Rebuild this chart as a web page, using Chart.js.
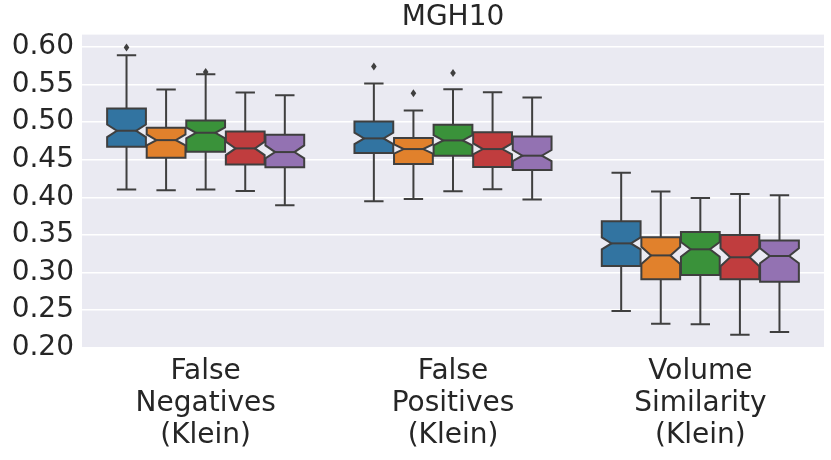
<!DOCTYPE html>
<html>
<head>
<meta charset="utf-8">
<script src="https://cdn.jsdelivr.net/npm/chart.js@4.4.1/dist/chart.umd.min.js"></script>
<style>
  body { margin: 0; background: #fff; }
  #box { width: 831px; height: 460px; }
</style>
</head>
<body>
<div id="box"><canvas id="chart" width="831" height="460"></canvas></div>
<script>
// categorias del eje x (multilinea)
const categories = [
  ['False', 'Negatives', '(Klein)'],
  ['False', 'Positives', '(Klein)'],
  ['Volume', 'Similarity', '(Klein)']
]
const seriesNames = ['Serie 1', 'Serie 2', 'Serie 3', 'Serie 4', 'Serie 5']
const seriesColors = ['#3274a1', '#e1812c', '#3a923a', '#c03d3e', '#9372b2']
const yTicks = [0.20, 0.25, 0.30, 0.35, 0.40, 0.45, 0.50, 0.55, 0.60]

// una fila por serie, una columna por categoria
const whiskerLow = [
  [0.4103, 0.3947, 0.2486],
  [0.4094, 0.3978, 0.2318],
  [0.4103, 0.4081, 0.2310],
  [0.4085, 0.4107, 0.2172],
  [0.3895, 0.3971, 0.2208]
]
const q1 = [
  [0.4674, 0.4589, 0.3086],
  [0.4528, 0.4443, 0.2909],
  [0.4607, 0.4554, 0.2967],
  [0.4435, 0.4403, 0.2909],
  [0.4399, 0.4363, 0.2878]
]
const notchLow = [
  [0.4801, 0.4708, 0.3308],
  [0.4691, 0.4581, 0.3112],
  [0.4784, 0.4691, 0.3209],
  [0.4562, 0.4572, 0.3082],
  [0.4519, 0.4483, 0.3122]
]
const medians = [
  [0.4886, 0.4784, 0.3387],
  [0.4761, 0.4642, 0.3227],
  [0.4859, 0.4757, 0.3308],
  [0.4651, 0.4642, 0.3202],
  [0.4602, 0.4554, 0.3219]
]
const notchHigh = [
  [0.4969, 0.4860, 0.3467],
  [0.4837, 0.4704, 0.3342],
  [0.4930, 0.4828, 0.3404],
  [0.4740, 0.4717, 0.3321],
  [0.4691, 0.4629, 0.3321]
]
const q3 = [
  [0.5182, 0.5009, 0.3683],
  [0.4926, 0.4788, 0.3467],
  [0.5023, 0.4966, 0.3537],
  [0.4877, 0.4867, 0.3497],
  [0.4833, 0.4810, 0.3427]
]
const whiskerHigh = [
  [0.5889, 0.5514, 0.4328],
  [0.5434, 0.5155, 0.4076],
  [0.5638, 0.5438, 0.3992],
  [0.5395, 0.5398, 0.4045],
  [0.5359, 0.5328, 0.4027]
]
const outliers = [
  [[0.5995], [0.5739], []],
  [[], [0.5385], []],
  [[0.5668], [0.5655], []],
  [[], [], []],
  [[], [], []]
]

const edgeColor = '#3f3f3f'
const textColor = '#262626'
const fontFamily = "'DejaVu Sans', sans-serif"

// fondo gris del area de dibujo
const plotBackground = {
  id: 'plotBackground',
  beforeDraw(chart) {
    const a = chart.chartArea
    chart.ctx.save()
    chart.ctx.fillStyle = '#eaeaf2'
    chart.ctx.fillRect(a.left, a.top, a.right - a.left, a.bottom - a.top)
    chart.ctx.restore()
  }
}

// cajas con muesca, bigotes y atipicos
const notchedBoxes = {
  id: 'notchedBoxes',
  afterDatasetsDraw(chart) {
    const ctx = chart.ctx
    const ys = chart.scales.y
    const py = v => ys.getPixelForValue(v)
    ctx.save()
    ctx.lineWidth = 2
    ctx.strokeStyle = edgeColor
    ctx.lineJoin = 'miter'
    chart.data.datasets.forEach((ds, h) => {
      const meta = chart.getDatasetMeta(h)
      meta.data.forEach((bar, c) => {
        const cx = bar.x, w = bar.width
        const l = cx - w / 2, r = cx + w / 2
        const nl = cx - w / 4, nr = cx + w / 4
        // bigotes
        ctx.beginPath()
        ctx.moveTo(cx, py(q3[h][c])); ctx.lineTo(cx, py(whiskerHigh[h][c]))
        ctx.moveTo(cx, py(q1[h][c])); ctx.lineTo(cx, py(whiskerLow[h][c]))
        ctx.moveTo(nl, py(whiskerHigh[h][c])); ctx.lineTo(nr, py(whiskerHigh[h][c]))
        ctx.moveTo(nl, py(whiskerLow[h][c])); ctx.lineTo(nr, py(whiskerLow[h][c]))
        ctx.stroke()
        // caja
        ctx.beginPath()
        ctx.moveTo(l, py(q1[h][c]))
        ctx.lineTo(r, py(q1[h][c]))
        ctx.lineTo(r, py(notchLow[h][c]))
        ctx.lineTo(nr, py(medians[h][c]))
        ctx.lineTo(r, py(notchHigh[h][c]))
        ctx.lineTo(r, py(q3[h][c]))
        ctx.lineTo(l, py(q3[h][c]))
        ctx.lineTo(l, py(notchHigh[h][c]))
        ctx.lineTo(nl, py(medians[h][c]))
        ctx.lineTo(l, py(notchLow[h][c]))
        ctx.closePath()
        ctx.fillStyle = seriesColors[h]
        ctx.fill()
        ctx.stroke()
        // mediana
        ctx.beginPath()
        ctx.moveTo(nl, py(medians[h][c])); ctx.lineTo(nr, py(medians[h][c]))
        ctx.stroke()
        // atipicos en forma de rombo
        ctx.fillStyle = edgeColor
        outliers[h][c].forEach(v => {
          const oy = py(v)
          ctx.beginPath()
          ctx.moveTo(cx, oy - 4); ctx.lineTo(cx + 2.8, oy)
          ctx.lineTo(cx, oy + 4); ctx.lineTo(cx - 2.8, oy)
          ctx.closePath()
          ctx.fill()
        })
      })
    })
    ctx.restore()
  }
}

const datasets = seriesNames.map((name, h) => ({
  label: name,
  data: categories.map((_, c) => [q1[h][c], q3[h][c]]),
  backgroundColor: 'rgba(0,0,0,0)',
  borderWidth: 0,
  categoryPercentage: 0.8,
  barPercentage: 0.98
}))

new Chart(document.querySelector('#chart'), {
  type: 'bar',
  data: { labels: categories, datasets: datasets },
  options: {
    responsive: false,
    animation: false,
    devicePixelRatio: 1,
    layout: { padding: { left: 0, right: 7, top: 0, bottom: 0 } },
    plugins: {
      legend: { display: false },
      tooltip: { enabled: false },
      title: {
        display: true,
        fullSize: false,
        text: 'MGH10',
        color: textColor,
        font: { family: fontFamily, size: 28, weight: 'normal' },
        padding: { top: 1, bottom: 0 }
      }
    },
    scales: {
      x: {
        grid: { display: false, drawTicks: false },
        border: { display: false },
        ticks: {
          color: textColor,
          font: { family: fontFamily, size: 28, lineHeight: 1.16 },
          padding: 7,
          maxRotation: 0,
          autoSkip: false
        },
        afterFit: s => { s.height = 112 }
      },
      y: {
        min: 0.1995,
        max: 0.6165,
        grid: { color: '#ffffff', lineWidth: 1.5, drawTicks: false },
        border: { display: false },
        ticks: {
          color: textColor,
          font: { family: fontFamily, size: 28 },
          padding: 8,
          callback: v => v.toFixed(2)
        },
        afterBuildTicks: s => { s.ticks = yTicks.map(v => ({ value: v })) },
        afterFit: s => { s.width = 82 }
      }
    }
  },
  plugins: [plotBackground, notchedBoxes]
})
</script>
</body>
</html>
